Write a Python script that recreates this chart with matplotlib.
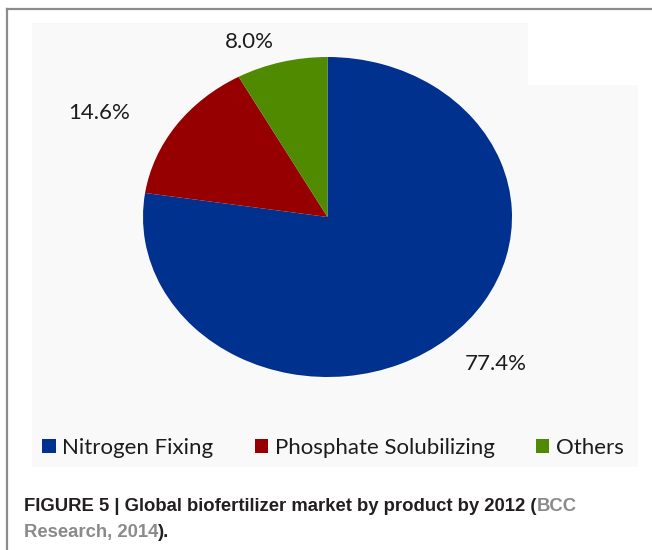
import matplotlib.pyplot as plt
from matplotlib.patches import Rectangle
from matplotlib.lines import Line2D

categories = ['Nitrogen Fixing', 'Phosphate Solubilizing', 'Others']
shares = [77.4, 14.6, 8.0]
colors = ['#00318f', '#960000', '#4f8a00']

W, H = 652, 550
fig = plt.figure(figsize=(W / 100, H / 100), dpi=100)

def px(x, y):
    # pixel (from top-left) -> figure fraction
    return x / W, 1 - y / H

# page frame
fig.add_artist(Line2D([7 / W, 7 / W], [0, 1 - 9 / H], color='#8c8c8c', lw=1.6, transform=fig.transFigure))
fig.add_artist(Line2D([7 / W, 1], [1 - 9 / H, 1 - 9 / H], color='#8c8c8c', lw=1.6, transform=fig.transFigure))

# chart background (light grey, with white notch top right)
fig.add_artist(Rectangle(px(32, 467), 606 / W, 444 / H, transform=fig.transFigure,
                         facecolor='#f9f9f9', edgecolor='none', zorder=0))
fig.add_artist(Rectangle(px(528, 85), 112 / W, 63 / H, transform=fig.transFigure,
                         facecolor='white', edgecolor='none', zorder=0))

# pie axes: radius 1 -> 184.5 px wide, 160 px tall
cx, cy, rx, ry = 327.5, 217, 184.5, 160
ax = fig.add_axes([(cx - 1.25 * rx) / W, 1 - (cy + 1.25 * ry) / H, 2.5 * rx / W, 2.5 * ry / H])
ax.patch.set_alpha(0)
wedges, texts, autotexts = ax.pie(shares, colors=colors, startangle=90, counterclock=False,
                                  autopct='%.1f%%', pctdistance=1.3,
                                  textprops=dict(family='Lato', fontsize=16, color='#1c1c1c'))
ax.set_aspect('auto')
ax.set_xlim(-1.25, 1.25)
ax.set_ylim(-1.25, 1.25)

# label placement (data units)
label_pos = [(0.91, -0.92), (-1.24, 0.65), (-0.425, 1.095)]
for t, p in zip(autotexts, label_pos):
    t.set_position(p)
    t.set_ha('center')
    t.set_va('center')

leg = fig.legend(wedges, categories, loc='center', bbox_to_anchor=px(333, 448), ncol=3,
                 frameon=False, prop=dict(family='Lato', size=16),
                 handlelength=0.6, handleheight=0.6, handletextpad=0.3, columnspacing=1.85)
for t in leg.get_texts():
    t.set_color('#1c1c1c')

# caption
dark, grey = '#231f20', '#8a8a8a'
cap = dict(family='Liberation Sans', fontsize=13.3, fontweight='bold', va='baseline')
t1 = fig.text(*px(24, 511), 'FIGURE 5 | Global biofertilizer market by product by 2012 (', color=dark, **cap)
fig.canvas.draw()
r = fig.canvas.get_renderer()
bb = t1.get_window_extent(r)
fig.text(bb.x1 / W, 1 - 511 / H, 'BCC', color=grey, **cap)
t3 = fig.text(*px(24, 537), 'Research, 2014', color=grey, **cap)
bb3 = t3.get_window_extent(r)
fig.text(bb3.x1 / W, 1 - 537 / H, ').', color=dark, **cap)

fig.savefig('out.png', dpi=100)
